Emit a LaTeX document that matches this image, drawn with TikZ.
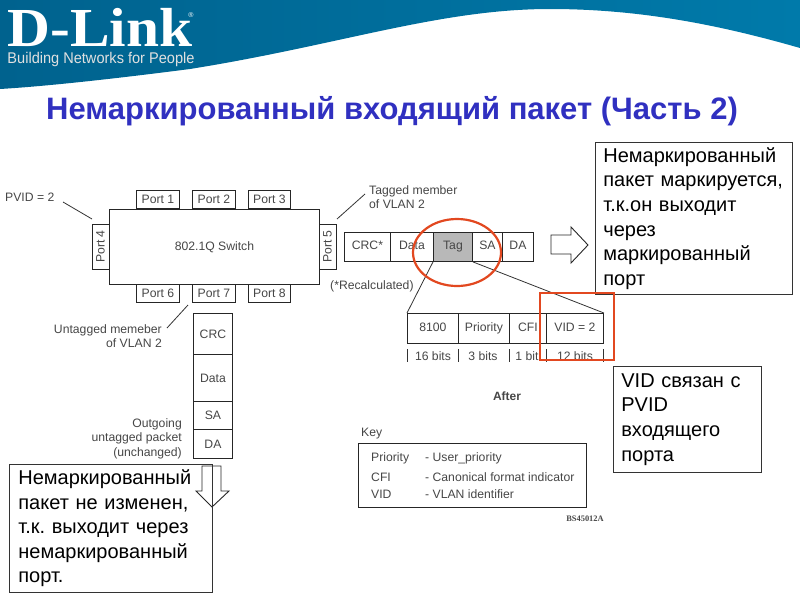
\documentclass[tikz,border=0pt]{standalone}
\usepackage{fontspec}
\setmainfont{Liberation Sans}
\newfontfamily\logofont{Liberation Serif}
\usetikzlibrary{shapes.arrows}
\definecolor{bannerblue}{RGB}{0,98,142}
\definecolor{bannerlight}{RGB}{0,122,170}
\definecolor{titleblue}{RGB}{48,48,192}
\definecolor{markred}{RGB}{226,72,32}
\definecolor{inkgrey}{RGB}{70,70,70}
\tikzset{
  cell/.style={draw=black!85,line width=0.9pt,text=inkgrey,font=\fontsize{12.2}{14}\selectfont,inner sep=0pt,anchor=north west},
  evencell/.style={cell,text height=9pt,text depth=3pt},
  note/.style={draw=black!80,line width=0.7pt,anchor=north west,align=left,inner sep=0pt,font=\fontsize{20}{24.6}\selectfont},
  caption/.style={text=inkgrey,font=\fontsize{12.2}{14}\selectfont,inner sep=0pt},
  lead/.style={black!80,line width=0.8pt},
  redmark/.style={markred,line width=2.2pt},
  blockarrow/.style={draw=black!85,fill=white,line width=0.9pt}
}
\frenchspacing
\begin{document}
\begin{tikzpicture}[x=1pt,y=-1pt]
  \useasboundingbox (0,0) rectangle (800,600);
  % Banner.
  \shade[left color=bannerblue,right color=bannerlight] (0,0) -- (800,0) -- (800,48) .. controls (720,25) and (640,9) .. (550,9) .. controls (440,9) and (340,45) .. (190,69) .. controls (120,78) and (50,86) .. (0,89) -- cycle;
  \node[inner sep=0pt,anchor=base,text=white,font=\fontsize{55}{55}\selectfont\bfseries\logofont] (logo) at (100,46) {\scalebox{1.08}[1]{D-Link}};
  \node[inner sep=0pt,text=white,font=\fontsize{7}{7}\selectfont] (regmark) at (191,15) {®};
  \node[inner sep=0pt,anchor=base,text=white!88!black,font=\fontsize{15.5}{16}\selectfont] (slogan) at (101,63) {\scalebox{0.94}[1]{Building Networks for People}};
  \node[inner sep=0pt,text=titleblue,font=\fontsize{31}{31}\selectfont\bfseries] (title) at (392,111) {Немаркированный входящий пакет (Часть 2)};
  % Switch and ports.
  \node[cell,minimum width=210,minimum height=75] (switch) at (109,209) {802.1Q Switch};
  \node[cell,minimum width=43,minimum height=18] (port1) at (136,190) {Port 1};
  \node[cell,minimum width=43,minimum height=18] (port2) at (192,190) {Port 2};
  \node[cell,minimum width=42,minimum height=18] (port3) at (248,190) {Port 3};
  \node[cell,minimum width=43,minimum height=18] (port6) at (136,284) {Port 6};
  \node[cell,minimum width=43,minimum height=18] (port7) at (192,284) {Port 7};
  \node[cell,minimum width=42,minimum height=18] (port8) at (248,284) {Port 8};
  \node[cell,minimum width=17,minimum height=45,anchor=center] (port4) at (100.5,246.5) {\rotatebox{90}{Port 4}};
  \node[cell,minimum width=17,minimum height=45,anchor=center] (port5) at (327.5,246.5) {\rotatebox{90}{Port 5}};
  % Captions with leaders.
  \node[caption,anchor=west] (pvid) at (5,197) {PVID = 2};
  \coordinate (pvidend) at (92,219);
  \coordinate (pvidstart) at (63,202);
  \draw[lead] (pvidstart) -- (pvidend);
  \node[caption,anchor=north west,align=left] (tagged) at (369,185) {Tagged member\\of VLAN 2};
  \coordinate (taggedstart) at (365,194);
  \coordinate (taggedend) at (337,219);
  \draw[lead] (taggedstart) -- (taggedend);
  \node[caption,anchor=north east,align=right] (untagged) at (162,324) {Untagged memeber\\of VLAN 2};
  \coordinate (untagstart) at (167,328);
  \coordinate (untagend) at (188,305);
  \draw[lead] (untagstart) -- (untagend);
  \node[caption,anchor=west] (recalc) at (330,286) {(*Recalculated)};
  % Outgoing tagged packet.
  \node[evencell,minimum width=46,minimum height=29] (crc) at (344,232) {CRC*};
  \node[evencell,minimum width=43,minimum height=29] (data) at (390,232) {Data};
  \node[evencell,fill=black!28,minimum width=39,minimum height=29] (tag) at (433,232) {Tag};
  \node[evencell,minimum width=30,minimum height=29] (sa) at (472,232) {SA};
  \node[evencell,minimum width=31,minimum height=29] (da) at (502,232) {DA};
  \draw[blockarrow] (551,235) -- (571,235) -- (571,227) -- (588,245) -- (571,263) -- (571,254) -- (551,254) -- cycle;
  % Tag fields.
  \node[evencell,minimum width=51,minimum height=30] (f8100) at (407,313) {8100};
  \node[evencell,minimum width=51,minimum height=30] (fprio) at (458,313) {Priority};
  \node[evencell,minimum width=37,minimum height=30] (fcfi) at (509,313) {CFI};
  \node[evencell,minimum width=57,minimum height=30] (fvid) at (546,313) {VID = 2};
  \draw[lead] (tag.south west) -- (f8100.north west);
  \draw[lead] (tag.south east) -- (fvid.north east);
  \node[caption,anchor=center] (b16) at (433,356) {16 bits};
  \node[caption,anchor=center] (b3) at (483,356) {3 bits};
  \node[caption,anchor=center] (b1) at (527,356) {1 bit};
  \node[caption,anchor=center] (b12) at (575,356) {12 bits};
  \foreach \bx in {407,458,509,546,603}
    \draw[lead] (\bx,349) -- (\bx,362);
  \node[caption,font=\fontsize{12}{14}\selectfont\bfseries,anchor=center] (after) at (507,396) {After};
  % Outgoing untagged packet.
  \node[cell,minimum width=39,minimum height=41] (ucrc) at (193,313) {CRC};
  \node[cell,minimum width=39,minimum height=47] (udata) at (193,354) {Data};
  \node[cell,minimum width=39,minimum height=28] (usa) at (193,401) {SA};
  \node[cell,minimum width=39,minimum height=29] (uda) at (193,429) {DA};
  \node[caption,anchor=north east,align=right,font=\fontsize{12.2}{14.5}\selectfont] (outgoing) at (182,418) {Outgoing\\untagged packet\\(unchanged)};
  \draw[blockarrow] (202,466) -- (221,466) -- (221,491) -- (229,491) -- (212,507) -- (196,491) -- (202,491) -- cycle;
  % Key.
  \node[caption,anchor=west] (keylabel) at (361,434) {Key};
  \node[cell,minimum width=228,minimum height=64] (keybox) at (358,443) {};
  \node[caption,anchor=west] (k1a) at (371,458) {Priority};
  \node[caption,anchor=west] (k1b) at (425,458) {- User\_priority};
  \node[caption,anchor=west] (k2a) at (371,477) {CFI};
  \node[caption,anchor=west] (k2b) at (425,477) {- Canonical format indicator};
  \node[caption,anchor=west] (k3a) at (371,494) {VID};
  \node[caption,anchor=west] (k3b) at (425,494) {- VLAN identifier};
  \node[caption,anchor=center,font=\fontsize{8.4}{9}\selectfont\logofont\bfseries] (code) at (585,519) {BS45012A};
  % Notes.
  \node[note,minimum width=197,minimum height=152,text width=181,inner xsep=8pt] (note1) at (595,142) {Немаркированный\\пакет маркируется,\\т.к.он выходит\\через\\маркированный\\порт};
  \node[note,minimum width=148,minimum height=106,text width=132,inner xsep=8pt] (note2) at (613,366) {VID связан с\\PVID\\входящего\\порта};
  \node[note,minimum width=203,minimum height=128,text width=185,inner xsep=9pt] (note3) at (9,464) {Немаркированный\\пакет не изменен,\\т.к. выходит через\\немаркированный\\порт.};
  % Red marks.
  \draw[redmark] (457,252.5) ellipse (44 and 33.5);
  \draw[redmark] (540,293) rectangle (614,360);
\end{tikzpicture}
\end{document}
